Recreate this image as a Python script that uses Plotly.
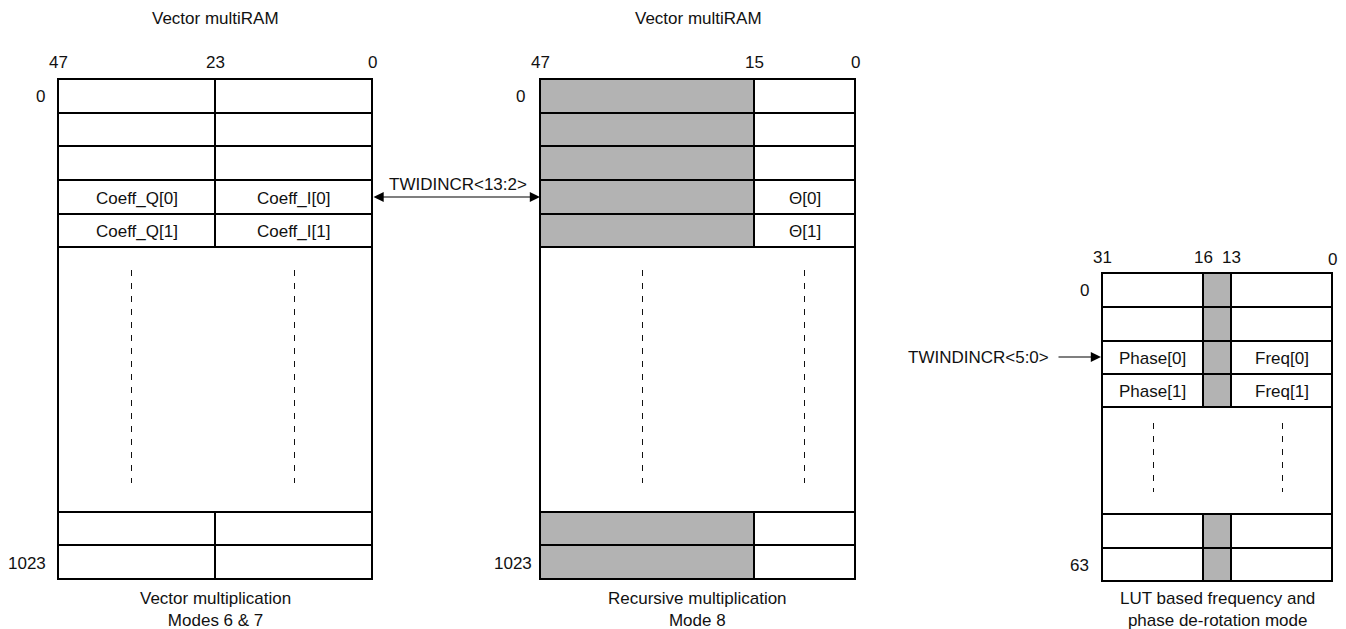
import plotly.graph_objects as go

# ---------------- data ----------------
titles = ["Vector multiRAM", "Vector multiRAM"]
bits_a = ["47", "23", "0"]
bits_b = ["47", "15", "0"]
bits_c = ["31", "16", "13", "0"]
first_rows = ["0", "0", "0"]
last_rows = ["1023", "1023", "63"]
cells_a = [["", ""], ["", ""], ["", ""], ["Coeff_Q[0]", "Coeff_I[0]"], ["Coeff_Q[1]", "Coeff_I[1]"]]
cells_b = [["", ""], ["", ""], ["", ""], ["", "Θ[0]"], ["", "Θ[1]"]]
cells_c = [["", "", ""], ["", "", ""], ["Phase[0]", "", "Freq[0]"], ["Phase[1]", "", "Freq[1]"]]
shaded_b = [True, False]
shaded_c = [False, True, False]
captions = ["Vector multiplication<br>Modes 6 & 7",
            "Recursive multiplication<br>Mode 8",
            "LUT based frequency and<br>phase de-rotation mode"]
pointer_labels = ["TWIDINCR<13:2>", "TWINDINCR<5:0>"]

# ---------------- layout geometry ----------------
W, H = 1346, 629
FONT = dict(family="Liberation Sans, Arial, sans-serif", size=17, color="#111111")
GRAY = "#b3b3b3"

blocks = [
    dict(xs=[58, 215, 372], top=[79, 113, 146, 180, 214, 247], bot=[512, 545, 579],
         cells=cells_a, shaded=[False, False], bits=bits_a, bity=62, title_x=215,
         first=first_rows[0], last=last_rows[0], rowlab_x=40, last_x=27,
         dash_x=[131.5, 294.5], dash_y=[270, 483], cap=captions[0]),
    dict(xs=[540, 754, 855], top=[79, 113, 146, 180, 214, 247], bot=[512, 545, 579],
         cells=cells_b, shaded=shaded_b, bits=bits_b, bity=62, title_x=698,
         first=first_rows[1], last=last_rows[1], rowlab_x=520, last_x=513,
         dash_x=[642.5, 804.5], dash_y=[270, 483], cap=captions[1]),
    dict(xs=[1102, 1203, 1231, 1332], top=[273, 307, 341, 374, 407], bot=[514, 548, 581],
         cells=cells_c, shaded=shaded_c, bits=bits_c, bity=257, title_x=None,
         first=first_rows[2], last=last_rows[2], rowlab_x=1084, last_x=1079,
         dash_x=[1153.5, 1282.5], dash_y=[423, 492], cap=captions[2]),
]

fig = go.Figure()
shapes = []
annotations = []

def ann(x, y, text, **kw):
    d = dict(x=x, y=y, xref="x", yref="y", text=text, showarrow=False, font=FONT)
    d.update(kw)
    annotations.append(d)

for bi, b in enumerate(blocks):
    xs = b["xs"]
    ncol = len(xs) - 1
    rows = [(b["top"][i], b["top"][i + 1]) for i in range(len(b["top"]) - 1)]
    rows_bot = [(b["bot"][i], b["bot"][i + 1]) for i in range(len(b["bot"]) - 1)]
    shapes.append(dict(type="rect", xref="x", yref="y", x0=xs[0], x1=xs[-1],
                       y0=b["top"][-1], y1=b["bot"][0], line=dict(color="black", width=2),
                       fillcolor="white", layer="below"))
    for ri, (y0, y1) in enumerate(rows + rows_bot):
        for ci in range(ncol):
            fill = GRAY if b["shaded"][ci] else "white"
            shapes.append(dict(type="rect", xref="x", yref="y", x0=xs[ci], x1=xs[ci + 1],
                               y0=y0, y1=y1, line=dict(color="black", width=2),
                               fillcolor=fill, layer="below"))
            if ri < len(rows):
                t = b["cells"][ri][ci]
                if t:
                    ann((xs[ci] + xs[ci + 1]) / 2, (y0 + y1) / 2 + 1, t)
    for dx in b["dash_x"]:
        shapes.append(dict(type="line", xref="x", yref="y", x0=dx, x1=dx,
                           y0=b["dash_y"][0], y1=b["dash_y"][1],
                           line=dict(color="#111111", width=1, dash="6px,7px")))
    for bx, bl in zip(xs, b["bits"]):
        ann(bx, b["bity"] + (2 if bl == "0" and b["title_x"] is None else 0), bl)
    ann(b["rowlab_x"], (b["top"][0] + b["top"][1]) / 2, b["first"])
    ann(b["last_x"], (b["bot"][1] + b["bot"][2]) / 2 + 1, b["last"])
    if b["title_x"] is not None:
        ann(b["title_x"], 18, titles[bi])
    ann((xs[0] + xs[-1]) / 2, 609, b["cap"])

annotations.append(dict(x=540, y=197, ax=372, ay=197, xref="x", yref="y", axref="x", ayref="y",
                        text="", showarrow=True, arrowhead=2, startarrowhead=2, arrowside="end+start",
                        arrowsize=1.7, startarrowsize=1.7, arrowwidth=1.2, arrowcolor="black"))
ann(458, 184, pointer_labels[0])
annotations.append(dict(x=1101, y=357, ax=1057, ay=357, xref="x", yref="y", axref="x", ayref="y",
                        text="", showarrow=True, arrowhead=2, arrowsize=1.7, arrowwidth=1.2,
                        arrowcolor="black"))
ann(978, 357, pointer_labels[1])

fig.update_layout(
    width=W, height=H, margin=dict(l=0, r=0, t=0, b=0),
    paper_bgcolor="white", plot_bgcolor="white",
    xaxis=dict(range=[0, W], visible=False, fixedrange=True),
    yaxis=dict(range=[H, 0], visible=False, fixedrange=True),
    shapes=shapes, annotations=annotations, showlegend=False,
)
fig.write_html("out.html", config={"displayModeBar": False},
               post_script="document.body.style.margin='0px';document.body.style.overflow='hidden';")
